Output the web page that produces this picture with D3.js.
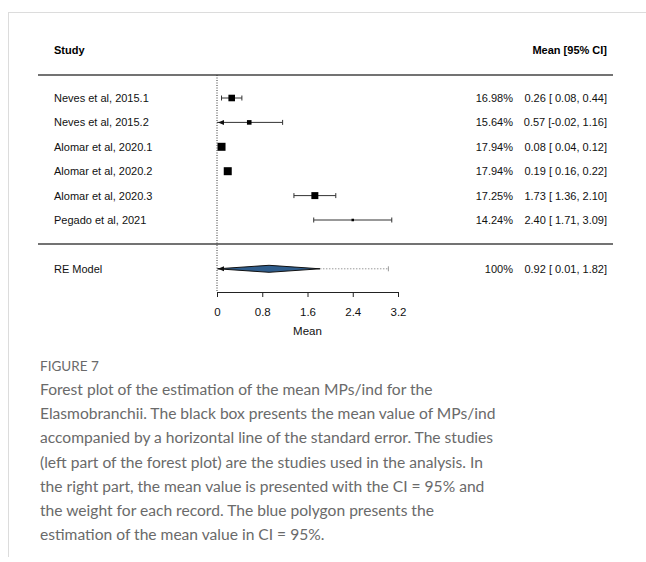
<!DOCTYPE html>
<html>
<head>
<meta charset="utf-8">
<script src="https://cdn.jsdelivr.net/npm/d3@7"></script>
<style>
  body { margin: 0; background: #fff; }
  svg text { font-family: "Liberation Sans", Arial, sans-serif; }
  .caption { font-family: Lato, "Open Sans", sans-serif; fill: #6a6a6a; }
</style>
</head>
<body>
<svg id="chart" width="646" height="562"></svg>
<script>
// study data
const studies = ["Neves et al, 2015.1", "Neves et al, 2015.2", "Alomar et al, 2020.1",
                 "Alomar et al, 2020.2", "Alomar et al, 2020.3", "Pegado et al, 2021"]
const weights = [16.98, 15.64, 17.94, 17.94, 17.25, 14.24]
const means = [0.26, 0.57, 0.08, 0.19, 1.73, 2.40]
const lowers = [0.08, -0.02, 0.04, 0.16, 1.36, 1.71]
const uppers = [0.44, 1.16, 0.12, 0.22, 2.10, 3.09]

// random effects model
const reLabel = "RE Model"
const reEst = [0.92, 0.01, 1.82]   // estimate, lower, upper
const rePred = [-0.2, 3.03]        // prediction interval

const xTicks = [0, 0.8, 1.6, 2.4, 3.2]

const caption = [
  "Forest plot of the estimation of the mean MPs/ind for the",
  "Elasmobranchii. The black box presents the mean value of MPs/ind",
  "accompanied by a horizontal line of the standard error. The studies",
  "(left part of the forest plot) are the studies used in the analysis. In",
  "the right part, the mean value is presented with the CI = 95% and",
  "the weight for each record. The blue polygon presents the",
  "estimation of the mean value in CI = 95%."
]

const fs = 11
const svg = d3.select("#chart")

// figure frame
svg.append("line").attr("x1", 8).attr("x2", 646).attr("y1", 12.5).attr("y2", 12.5)
  .attr("stroke", "#dcdcdc")
svg.append("line").attr("x1", 8.5).attr("x2", 8.5).attr("y1", 12).attr("y2", 557)
  .attr("stroke", "#dcdcdc")

const x = d3.scaleLinear().domain([0, 3.2]).range([217, 398])
const y = d3.scaleLinear().domain([0, 1]).range([98, 122.4])
const size = d3.scaleLinear().domain(d3.extent(weights)).range([2.5, 8])

const fmt = v => (v < 0 ? "" : " ") + v.toFixed(2)
const ciText = (m, l, u) => m.toFixed(2) + " [" + fmt(l) + "," + fmt(u) + "]"

// header
svg.append("text").text("Study").attr("x", 54).attr("y", 54)
  .attr("font-size", fs).attr("font-weight", "bold")
svg.append("text").text("Mean [95% CI]").attr("x", 607).attr("y", 54)
  .attr("font-size", fs).attr("font-weight", "bold").attr("text-anchor", "end")

// separators
svg.append("line").attr("x1", 38).attr("x2", 613).attr("y1", 75).attr("y2", 75)
  .attr("stroke", "#444").attr("stroke-width", 1.3)
svg.append("line").attr("x1", 38).attr("x2", 613).attr("y1", 244).attr("y2", 244)
  .attr("stroke", "#444").attr("stroke-width", 1.3)

// reference line at 0
svg.append("line").attr("x1", x(0)).attr("x2", x(0)).attr("y1", 75).attr("y2", 292)
  .attr("stroke", "#333").attr("stroke-dasharray", "1,1.5")

const arrowLeft = (g, px, py, col) =>
  g.append("path").attr("d", `M${px},${py} L${px + 6},${py - 2.5} L${px + 6},${py + 2.5} Z`)
    .attr("fill", col)

// studies
const rows = svg.append("g")
studies.forEach((s, i) => {
  const cy = y(i)
  const g = rows.append("g")
  g.append("text").text(s).attr("x", 54).attr("y", cy + 4).attr("font-size", fs).attr("fill", "#111")
  const lo = Math.max(lowers[i], x.domain()[0])
  const hi = Math.min(uppers[i], x.domain()[1])
  g.append("line").attr("x1", x(lo)).attr("x2", x(hi)).attr("y1", cy).attr("y2", cy)
    .attr("stroke", "#333").attr("stroke-width", 1)
  if (lowers[i] < x.domain()[0]) {
    arrowLeft(g, x(lo) + 1, cy, "#111")
  } else {
    g.append("line").attr("x1", x(lo)).attr("x2", x(lo)).attr("y1", cy - 2.5).attr("y2", cy + 2.5)
      .attr("stroke", "#333")
  }
  g.append("line").attr("x1", x(hi)).attr("x2", x(hi)).attr("y1", cy - 2.5).attr("y2", cy + 2.5)
    .attr("stroke", "#333")
  const sz = size(weights[i])
  g.append("rect").attr("x", x(means[i]) - sz / 2).attr("y", cy - sz / 2)
    .attr("width", sz).attr("height", sz).attr("fill", "#000")
  g.append("text").text(weights[i].toFixed(2) + "%").attr("x", 513).attr("y", cy + 4)
    .attr("font-size", fs).attr("text-anchor", "end").attr("fill", "#111")
  g.append("text").text(ciText(means[i], lowers[i], uppers[i])).attr("x", 607).attr("y", cy + 4)
    .attr("font-size", fs).attr("text-anchor", "end").attr("fill", "#111")
})

// RE model
const ry = y(7)
svg.append("text").text(reLabel).attr("x", 54).attr("y", ry + 4).attr("font-size", fs).attr("fill", "#111")
svg.append("line").attr("x1", x(reEst[2])).attr("x2", x(rePred[1])).attr("y1", ry).attr("y2", ry)
  .attr("stroke", "#999").attr("stroke-dasharray", "1.5,1.5")
svg.append("line").attr("x1", x(rePred[1])).attr("x2", x(rePred[1])).attr("y1", ry - 2.5).attr("y2", ry + 2.5)
  .attr("stroke", "#999")
svg.append("line").attr("x1", x(0)).attr("x2", x(reEst[1])).attr("y1", ry).attr("y2", ry)
  .attr("stroke", "#999")
svg.append("path")
  .attr("d", `M${x(reEst[1])},${ry} L${x(reEst[0])},${ry - 3.5} L${x(reEst[2])},${ry} L${x(reEst[0])},${ry + 3.5} Z`)
  .attr("fill", "#2f5d8c").attr("stroke", "#111").attr("stroke-width", 1)
arrowLeft(svg, x(0) + 1, ry, "#111")
svg.append("text").text("100%").attr("x", 513).attr("y", ry + 4)
  .attr("font-size", fs).attr("text-anchor", "end").attr("fill", "#111")
svg.append("text").text(ciText(reEst[0], reEst[1], reEst[2])).attr("x", 607).attr("y", ry + 4)
  .attr("font-size", fs).attr("text-anchor", "end").attr("fill", "#111")

// x axis
const axis = svg.append("g").attr("transform", "translate(0,292)")
  .call(d3.axisBottom(x).tickValues(xTicks).tickSize(5).tickSizeOuter(5).tickFormat(d3.format("")))
axis.selectAll("path, line").attr("stroke", "#222")
axis.selectAll("text").attr("font-size", 11.5).attr("fill", "#111")
  .attr("font-family", "Liberation Sans, Arial, sans-serif").attr("dy", "1.35em")
svg.append("text").text("Mean").attr("x", (x(0) + x(3.2)) / 2).attr("y", 335)
  .attr("font-size", 11.5).attr("text-anchor", "middle").attr("fill", "#111")

// caption
svg.append("text").text("FIGURE 7").attr("class", "caption").attr("x", 40).attr("y", 371)
  .attr("font-size", 13.5).attr("fill", "#555")
svg.append("g").selectAll("text").data(caption).join("text")
  .attr("class", "caption")
  .attr("x", 40).attr("y", (d, i) => 395 + i * 24.2)
  .attr("font-size", 15.6)
  .text(d => d)
</script>
</body>
</html>
